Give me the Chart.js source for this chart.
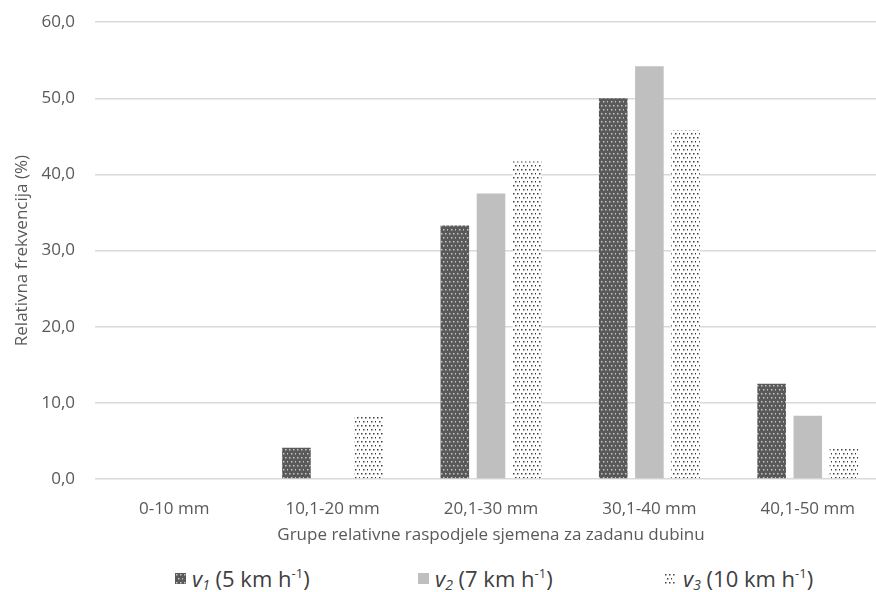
<!DOCTYPE html>
<html>
<head>
<meta charset="utf-8">
<script src="https://cdn.jsdelivr.net/npm/chart.js@4/dist/chart.umd.min.js"></script>
<style>
  html, body { margin: 0; padding: 0; background: #fff; overflow: hidden; }
  #wrap { position: relative; width: 876px; height: 592px; overflow: hidden; }
  #box { position: absolute; left: 0; top: -8px; width: 890px; height: 553px; }
  #legend { position: absolute; left: 0; top: 564px; width: 876px; height: 28px;
            font-family: "Open Sans", "Liberation Sans", sans-serif; font-size: 22px; color: #404040; }
  .item { position: absolute; top: 0; white-space: nowrap; line-height: 28px; }
  .item canvas { position: absolute; top: 9px; left: 0; }
  .item span { position: absolute; top: 0; }
  .item i { font-style: italic; }
  .item sub { font-size: 14px; vertical-align: -3px; line-height: 0; }
  .item sup { font-size: 13px; vertical-align: 9px; line-height: 0; }
</style>
</head>
<body>
<div id="wrap">
  <div id="box"><canvas id="chart"></canvas></div>
  <div id="legend"></div>
</div>
<script>
// ============ DATA ============
const CATEGORIES = ['0-10 mm', '10,1-20 mm', '20,1-30 mm', '30,1-40 mm', '40,1-50 mm'];
const V1 = [0, 4.1, 33.3, 50.0, 12.5];
const V2 = [0, 0, 37.5, 54.2, 8.3];
const V3 = [0, 8.3, 41.7, 45.8, 4.2];
const Y_TICKS = [0, 10, 20, 30, 40, 50, 60];
const SERIES_LABELS = [
  { sym: '1', text: ' (5 km h', sup: '-1', end: ')' },
  { sym: '2', text: ' (7 km h', sup: '-1', end: ')' },
  { sym: '3', text: ' (10 km h', sup: '-1', end: ')' },
];

const FONT = '"Open Sans", "Liberation Sans", sans-serif';
const TEXT = '#595959';

// ============ PATTERNS ============
function dotPattern(bg, dot) {
  const c = document.createElement('canvas');
  c.width = 8; c.height = 8;
  const g = c.getContext('2d');
  if (bg) { g.fillStyle = bg; g.fillRect(0, 0, 8, 8); }
  g.fillStyle = dot;
  [[1, 1], [5, 1], [3, 5], [7, 5]].forEach(p => g.fillRect(p[0], p[1], 1.5, 1.5));
  return c;
}
const tiles = [
  dotPattern('#595959', '#c8c8c8'),
  null,
  dotPattern('#ffffff', '#404040'),
];
const ctx = document.getElementById('chart').getContext('2d');
const fills = [
  ctx.createPattern(tiles[0], 'repeat'),
  '#bfbfbf',
  ctx.createPattern(tiles[2], 'repeat'),
];

// ============ CHART ============
const datasets = [V1, V2, V3].map((d, i) => ({
  label: 'v' + (i + 1),
  data: d,
  backgroundColor: fills[i],
  borderWidth: 0,
  categoryPercentage: 0.685,
  barPercentage: 0.79,
}));

new Chart(ctx, {
  type: 'bar',
  data: { labels: CATEGORIES, datasets },
  options: {
    responsive: true,
    maintainAspectRatio: false,
    animation: false,
    layout: { padding: { top: 4, right: 3, left: 0, bottom: 0 } },
    plugins: { legend: { display: false }, tooltip: { enabled: false } },
    scales: {
      x: {
        grid: { display: false },
        border: { display: false },
        ticks: { color: TEXT, font: { family: FONT, size: 17 }, padding: 12, maxRotation: 0 },
        title: { display: true, text: 'Grupe relativne raspodjele sjemena za zadanu dubinu',
                 color: TEXT, font: { family: FONT, size: 17 }, padding: { top: 4, bottom: 0 } },
        afterFit: s => { s.height = 66; },
      },
      y: {
        min: 0, max: 60,
        afterBuildTicks: s => { s.ticks = Y_TICKS.map(v => ({ value: v })); },
        grid: { color: '#d9d9d9', lineWidth: 1.5, drawTicks: false },
        border: { display: false },
        ticks: { color: TEXT, font: { family: FONT, size: 17 }, padding: 20,
                 callback: v => v.toFixed(1).replace('.', ',') },
        title: { display: true, text: 'Relativna frekvencija (%)',
                 color: TEXT, font: { family: FONT, size: 17 }, padding: { top: 12, bottom: 0 } },
        afterFit: s => { s.width = 95; },
      },
    },
  },
});

// ============ LEGEND ============
const legendX = [175, 418, 664];
const legend = document.getElementById('legend');
SERIES_LABELS.forEach((l, i) => {
  const item = document.createElement('div');
  item.className = 'item';
  item.style.left = legendX[i] + 'px';
  const sw = document.createElement('canvas');
  sw.width = 11; sw.height = 11;
  const g = sw.getContext('2d');
  g.fillStyle = i === 1 ? fills[1] : g.createPattern(tiles[i], 'repeat');
  g.fillRect(0, 0, 11, 11);
  const span = document.createElement('span');
  span.style.left = (i === 2 ? 19 : 17) + 'px';
  span.innerHTML = `<i>v<sub>${l.sym}</sub></i>${l.text}<sup>${l.sup}</sup>${l.end}`;
  item.appendChild(sw);
  item.appendChild(span);
  legend.appendChild(item);
});
</script>
</body>
</html>
